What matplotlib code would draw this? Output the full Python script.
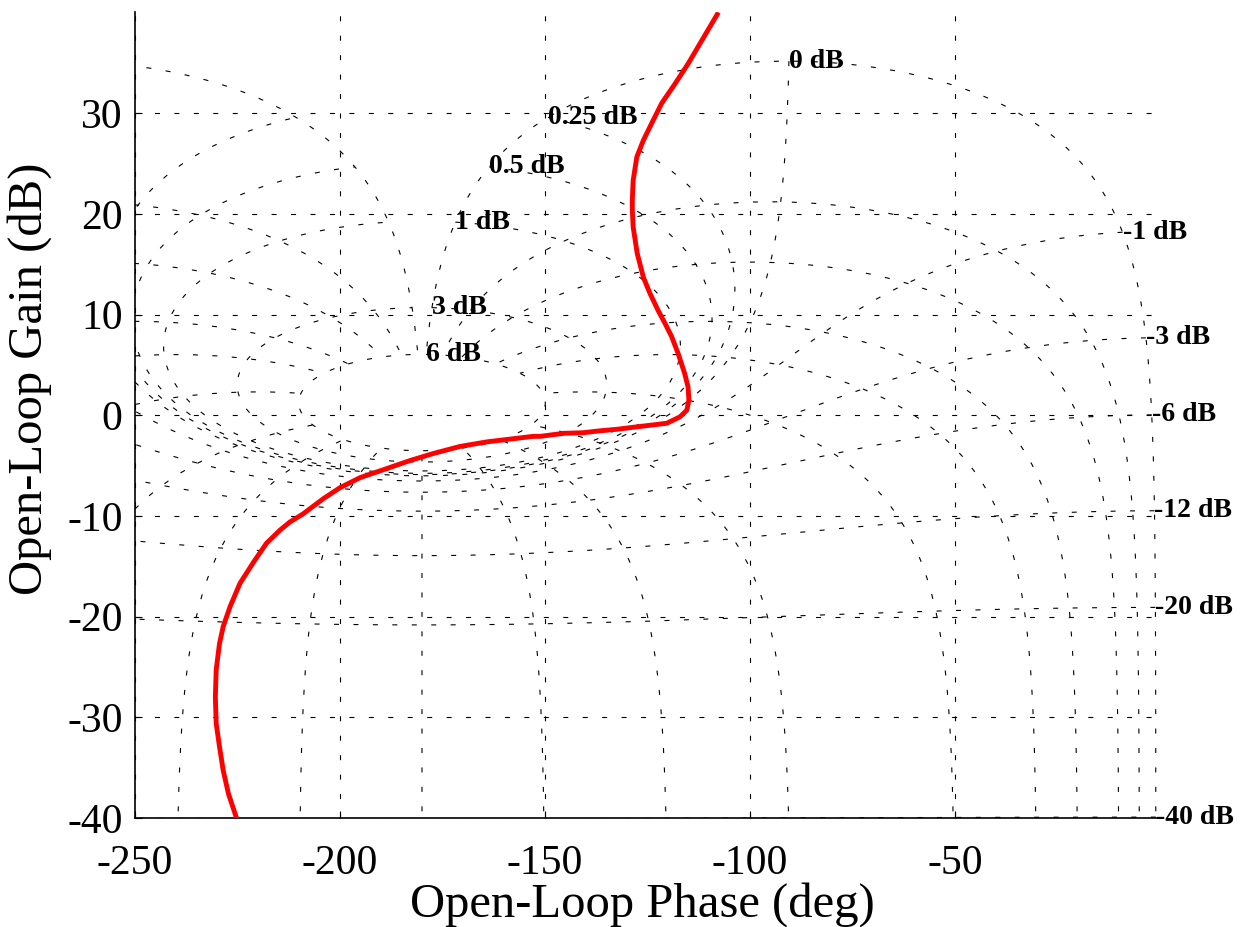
# Nichols chart: open-loop response over an ngrid-style background.

import numpy as np
import matplotlib
matplotlib.use("Agg")
import matplotlib.pyplot as plt

# Open-loop response (phase in deg, gain in dB)
phase_deg = [
    -108.0, -112.2, -115.1, -118.3, -121.5, -123.6, -126.0, -127.6, -128.5, -128.7,
    -128.7, -128.5, -127.5, -126.0, -124.4, -122.4, -120.7, -119.1, -117.5, -115.9,
    -115.1, -114.9, -115.4, -117.1, -120.3, -124.4, -128.5, -132.5, -136.6, -140.7,
    -145.5, -151.2, -152.9, -164.2, -170.7, -177.2, -182.9, -188.6, -195.1, -200.0,
    -204.1, -209.0, -212.2, -214.6, -217.9, -221.1, -224.4, -226.8, -228.5, -229.4,
    -230.2, -230.4, -230.2, -229.4, -228.5, -227.2, -225.2,
]
gain_db = [
    39.8, 36.9, 34.9, 32.9, 31.0, 29.3, 27.3, 25.65, 23.3, 21.35,
    20.4, 18.7, 16.06, 13.7, 12.1, 10.4, 9.1, 7.8, 6.1, 4.1,
    2.8, 1.5, 0.5, -0.17, -0.8, -1.0, -1.2, -1.4, -1.55, -1.74,
    -1.8, -2.1, -2.1, -2.65, -3.1, -3.8, -4.5, -5.3, -6.2, -7.2,
    -8.3, -9.8, -10.6, -11.4, -12.7, -14.6, -16.7, -19.0, -21.0, -22.7,
    -25.3, -28.0, -30.6, -32.9, -35.25, -37.6, -40.05,
]

# Closed-loop gains (M lines) and phases (N lines) of the grid
cl_gains_db = [6, 3, 1, 0.5, 0.25, 0, -1, -3, -6, -12, -20, -40]
cl_phases_deg = [-1, -5, -10, -20, -30, -50, -90, -120, -150, -180]

x_ticks = [-250, -200, -150, -100, -50]
y_ticks = [-40, -30, -20, -10, 0, 10, 20, 30]

GRID_STYLE = dict(color="k", linewidth=0.8, linestyle=(0, (3.6, 10.4)))
SERIF = ["Liberation Serif", "DejaVu Serif"]


def open_loop(t):
    """Map closed-loop T onto open-loop (phase in [-360, 0), gain dB)."""
    loop = t / (1.0 - t)
    ph = np.mod(np.degrees(np.angle(loop)), 360.0) - 360.0
    return ph, 20.0 * np.log10(np.abs(loop))


def draw_ngrid(ax):
    # M lines, closed-loop phase swept from -1 to -359 deg
    phi = np.radians(np.linspace(-1.0, -359.0, 3000))
    for g in cl_gains_db:
        m = 10.0 ** (g / 20.0)
        ph, gn = open_loop(m * np.exp(1j * phi))
        ax.plot(ph, gn, **GRID_STYLE)
        ax.text(ph[0], gn[0], f"{g:g} dB", ha="left", va="center",
                fontsize=20, fontweight="bold", family=SERIF, clip_on=False)

    # N lines, closed-loop gain swept from -60 to +6 dB, both sides of -180
    mags = 10.0 ** (np.linspace(-60.0, 6.0, 6000) / 20.0)
    phases = sorted(set(cl_phases_deg + [-360 - p for p in cl_phases_deg]))
    for p in phases:
        ph, gn = open_loop(mags * np.exp(1j * np.radians(p)))
        ax.plot(ph, gn, **GRID_STYLE)


def main():
    plt.rcParams["axes.unicode_minus"] = False
    plt.rcParams["lines.scale_dashes"] = False
    fig = plt.figure(figsize=(12.57, 9.27), dpi=100)
    ax = fig.add_axes([0.1074, 0.1176, 0.8154, 0.8690])

    draw_ngrid(ax)
    ax.plot(phase_deg, gain_db, color="red", linewidth=3.5, zorder=5)

    ax.set_xlim(-250, 0)
    ax.set_ylim(-40, 40)
    ax.set_xticks(x_ticks)
    ax.set_yticks(y_ticks)
    ax.grid(True, **GRID_STYLE)

    for side in ["top", "right"]:
        ax.spines[side].set_visible(False)
    for side in ["left", "bottom"]:
        ax.spines[side].set_linewidth(1.2)
        ax.spines[side].set_color("k")

    ax.tick_params(direction="in", length=5, width=0.8, labelsize=30)
    ax.tick_params(axis="x", pad=19)
    ax.tick_params(axis="y", pad=9)
    for lab in ax.get_xticklabels() + ax.get_yticklabels():
        lab.set_family(SERIF)

    ax.set_xlabel("Open-Loop Phase (deg)", fontsize=35, family=SERIF)
    ax.set_ylabel("Open-Loop Gain (dB)", fontsize=35, family=SERIF)
    ax.xaxis.set_label_coords(0.495, -0.080)
    ax.yaxis.set_label_coords(-0.081, 0.545)

    fig.savefig("out.png", dpi=100)
    plt.close(fig)


if __name__ == "__main__":
    main()
